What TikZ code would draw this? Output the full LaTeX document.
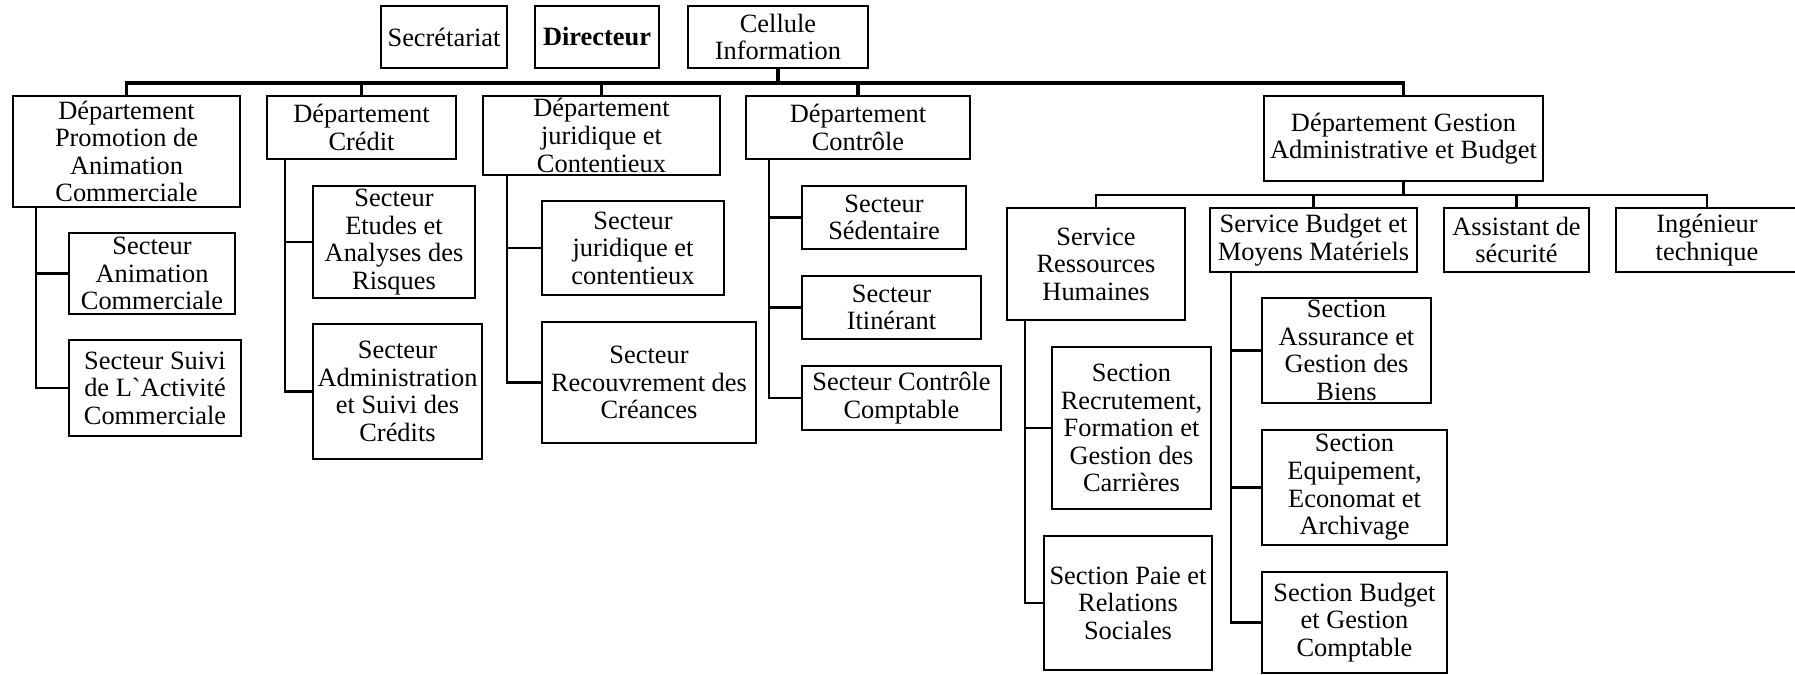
\documentclass[tikz,border=0pt]{standalone}
\usepackage{fontspec}
\setmainfont{Liberation Serif}
\usetikzlibrary{calc}
\tikzset{
  box/.style={draw, line width=1.4pt, inner sep=0pt, outer sep=0pt, align=center,
    font=\fontsize{13.2pt}{13.8pt}\selectfont},
  link/.style={line width=1.4pt},
  mainlink/.style={line width=1.7pt},
}
% \orgbox{name}{x1}{y1}{x2}{y2}{text}: a framed box given by its corners
\newcommand\orgbox[6]{%
  \node[box, minimum width={(#4-#2)*0.5pt}, minimum height={(#5-#3)*0.5pt}]
    (#1) at ({(#2+#4)/2},{(#3+#5)/2}) {#6};}
\begin{document}
\begin{tikzpicture}[x=0.5pt, y=-0.5pt]
\useasboundingbox (0,0) rectangle (1795,675);

% direction
\orgbox{sec}{381}{6}{507}{68}{Secrétariat}
\orgbox{dir}{535}{6}{659}{68}{\textbf{Directeur}}
\orgbox{cel}{688}{6}{868}{68}{Cellule\\Information}

% departments
\orgbox{d1}{13}{96}{240}{207}{Département\\Promotion de\\Animation\\Commerciale}
\orgbox{d2}{267}{96}{456}{159}{Département\\Crédit}
\orgbox{d3}{483}{96}{720}{175}{Département\\juridique et\\Contentieux}
\orgbox{d4}{746}{96}{970}{159}{Département\\Contrôle}
\orgbox{d5}{1264}{96}{1543}{181}{Département Gestion\\Administrative et Budget}

% sectors
\orgbox{a1}{69}{233}{235}{314}{Secteur\\Animation\\Commerciale}
\orgbox{a2}{69}{340}{241}{436}{Secteur Suivi\\de L\textasciigrave Activité\\Commerciale}
\orgbox{s21}{313}{186}{475}{298}{Secteur\\Etudes et\\Analyses des\\Risques}
\orgbox{s22}{313}{324}{482}{459}{Secteur\\Administration\\et Suivi des\\Crédits}
\orgbox{s31}{542}{201}{724}{295}{Secteur\\juridique et\\contentieux}
\orgbox{s32}{542}{322}{756}{443}{Secteur\\Recouvrement des\\Créances}
\orgbox{s41}{802}{186}{966}{249}{Secteur\\Sédentaire}
\orgbox{s42}{802}{276}{981}{339}{Secteur\\Itinérant}
\orgbox{s43}{802}{366}{1001}{430}{Secteur Contrôle\\Comptable}

% services
\orgbox{g1}{1007}{208}{1185}{320}{Service\\Ressources\\Humaines}
\orgbox{g2}{1210}{208}{1417}{272}{Service Budget et\\Moyens Matériels}
\orgbox{g3}{1444}{208}{1589}{272}{Assistant de\\sécurité}
\orgbox{g4}{1616}{208}{1798}{272}{Ingénieur\\technique}

% sections
\orgbox{r1}{1052}{347}{1211}{509}{Section\\Recrutement,\\Formation et\\Gestion des\\Carrières}
\orgbox{r2}{1044}{536}{1212}{670}{Section Paie et\\Relations\\Sociales}
\orgbox{b1}{1262}{298}{1431}{403}{Section\\Assurance et\\Gestion des\\Biens}
\orgbox{b2}{1262}{430}{1447}{545}{Section\\Equipement,\\Economat et\\Archivage}
\orgbox{b3}{1262}{572}{1447}{673}{Section Budget\\et Gestion\\Comptable}

% main bus
\coordinate (topbus) at (0,83);
\draw[mainlink] (cel.south) -- (cel.south |- topbus);
\draw[mainlink] (d1.north) -- (d1.north |- topbus) -- (d5.north |- topbus) -- (d5.north);
\foreach \n in {d2,d3,d4} \draw[mainlink] (\n.north) -- (\n.north |- topbus);

% services bus
\coordinate (subbus) at (0,195);
\draw[link] (d5.south) -- (d5.south |- subbus);
\draw[link] (g1.north) -- (g1.north |- subbus) -- (g4.north |- subbus) -- (g4.north);
\foreach \n in {g2,g3} \draw[link] (\n.north) -- (\n.north |- subbus);

% trunks down the left side of each parent
\coordinate (t1) at ($(d1.south west)+(23,0)$);
\coordinate (t2) at ($(d2.south west)+(18,0)$);
\coordinate (t3) at ($(d3.south west)+(24,0)$);
\coordinate (t4) at ($(d4.south west)+(23,0)$);
\coordinate (t5) at ($(g1.south west)+(18,0)$);
\coordinate (t6) at ($(g2.south west)+(21,0)$);
\draw[link] (t1) |- (a2.west) (a1.west) -- (a1.west -| t1);
\draw[link] (t2) |- (s22.west) (s21.west) -- (s21.west -| t2);
\draw[link] (t3) |- (s32.west) (s31.west) -- (s31.west -| t3);
\draw[link] (t4) |- (s43.west) (s41.west) -- (s41.west -| t4) (s42.west) -- (s42.west -| t4);
\draw[link] (t5) |- (r2.west) (r1.west) -- (r1.west -| t5);
\draw[link] (t6) |- (b3.west) (b1.west) -- (b1.west -| t6) (b2.west) -- (b2.west -| t6);
\end{tikzpicture}
\end{document}
